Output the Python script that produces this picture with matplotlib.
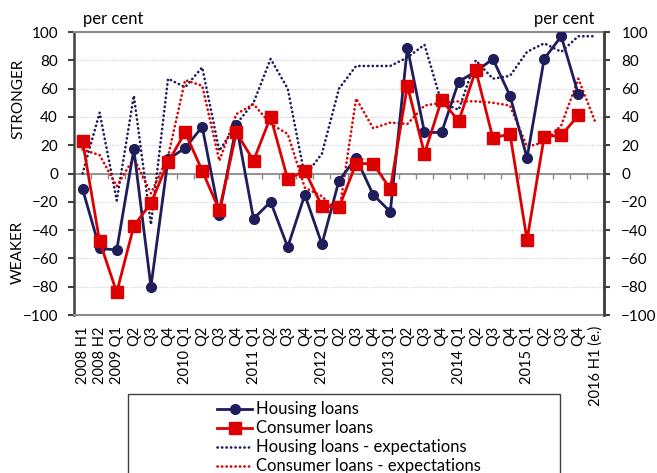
import numpy as np
import matplotlib
matplotlib.use('Agg')
import matplotlib.pyplot as plt
from matplotlib.patches import Rectangle

plt.rcParams['font.family'] = ['Lato', 'DejaVu Sans']

# categories and series (per cent)
cats = ['2008 H1', '2008 H2', '2009 Q1', 'Q2', 'Q3', 'Q4',
        '2010 Q1', 'Q2', 'Q3', 'Q4', '2011 Q1', 'Q2', 'Q3', 'Q4',
        '2012 Q1', 'Q2', 'Q3', 'Q4', '2013 Q1', 'Q2', 'Q3', 'Q4',
        '2014 Q1', 'Q2', 'Q3', 'Q4', '2015 Q1', 'Q2', 'Q3', 'Q4',
        '2016 H1 (e.)']
housing = [-11, -53, -54, 17, -80, 10, 18, 33, -29, 34, -32, -20, -52, -15, -50,
           -5, 11, -15, -27, 89, 29, 29, 65, 72, 81, 55, 11, 81, 97, 56, np.nan]
consumer = [23, -48, -84, -37, -21, 8, 29, 2, -26, 29, 9, 40, -4, 2, -23,
            -24, 7, 7, -11, 62, 14, 52, 37, 73, 25, 28, -47, 26, 27, 41, np.nan]
housing_exp = [0, 43, -19, 55, -36, 67, 61, 75, 16, 35, 50, 81, 60, -2, 14,
               60, 76, 76, 76, 82, 91, 50, 45, 80, 67, 69, 86, 92, 86, 97, 97]
consumer_exp = [17, 13, -9, 11, -14, 12, 66, 62, 9, 42, 49, 35, 28, -10, -16,
                -28, 53, 32, 36, 35, 48, 50, 51, 51, 50, 48, 19, 22, 34, 67, 36]
yticks = np.arange(-100, 101, 20)

navy = '#1f1d5c'
red = '#dd0000'

fig = plt.figure(figsize=(6.57, 4.73), dpi=100)
ax = fig.add_axes([74/657, 1-315/473, 530/657, 283/473])

x = np.arange(len(cats))
l3, = ax.plot(x, housing_exp, color=navy, lw=1.9, ls=(0, (0.1, 1.6)),
              dash_capstyle='round', zorder=3)
l4, = ax.plot(x, consumer_exp, color=red, lw=1.9, ls=(0, (0.1, 1.6)),
              dash_capstyle='round', zorder=3)
l1, = ax.plot(x, housing, color=navy, lw=2, marker='o', ms=7, zorder=4)
l2, = ax.plot(x, consumer, color=red, lw=2, marker='s', ms=8, zorder=5)

# zero line with small ticks between categories
ax.axhline(0, color='#8c8c8c', lw=1.3, zorder=2)
ax.vlines(np.arange(len(cats)+1) - 0.5, -4, 0, color='#8c8c8c', lw=1, zorder=2)

ax.set_xlim(-0.5, len(cats)-0.5)
ax.set_ylim(-100, 100)
ax.set_yticks(yticks)
ax.set_xticks(x)
ax.set_xticklabels(cats, rotation=90, fontsize=10.5)
ax.tick_params(axis='x', length=0, pad=8)
ax.tick_params(axis='y', direction='out', length=4.5, width=1.5, color='#404040',
               labelsize=11, pad=7)
ax.grid(axis='y', color='#d6d6d6', lw=0.9, ls=(0, (1, 1)))
ax.set_axisbelow(True)
for s in ['top', 'bottom']:
    ax.spines[s].set_color('#8c8c8c')
    ax.spines[s].set_linewidth(1.5)
for s in ['left', 'right']:
    ax.spines[s].set_color('#404040')
    ax.spines[s].set_linewidth(1.8)

ax2 = ax.twinx()
ax2.set_ylim(-100, 100)
ax2.set_yticks(yticks)
ax2.tick_params(axis='y', direction='out', length=4.5, width=1.5, color='#404040',
                labelsize=11, pad=8)
for s in ['top', 'bottom', 'left']:
    ax2.spines[s].set_visible(False)
ax2.spines['right'].set_color('#404040')
ax2.spines['right'].set_linewidth(1.8)

fig.text(83/657, 1-19/473, 'per cent', ha='left', va='center', fontsize=12)
fig.text(594/657, 1-19/473, 'per cent', ha='right', va='center', fontsize=12)
fig.text(18/657, 1-99/473, 'STRONGER', rotation=90, ha='center', va='center', fontsize=11)
fig.text(18/657, 1-252/473, 'WEAKER', rotation=90, ha='center', va='center', fontsize=11)

fig.legend([l1, l2, l3, l4],
           ['Housing loans', 'Consumer loans', 'Housing loans - expectations',
            'Consumer loans - expectations'],
           loc='upper left', bbox_to_anchor=(209/657, 1-393/473), frameon=False,
           borderpad=0, handlelength=2.1, handletextpad=0.25, labelspacing=0.18,
           fontsize=12)
fig.patches.append(Rectangle((128/657, -0.05), (560-128)/657, 0.05+1-394/473,
                             transform=fig.transFigure, fill=False,
                             ec='#404040', lw=1))

fig.savefig('out.png', dpi=100)
